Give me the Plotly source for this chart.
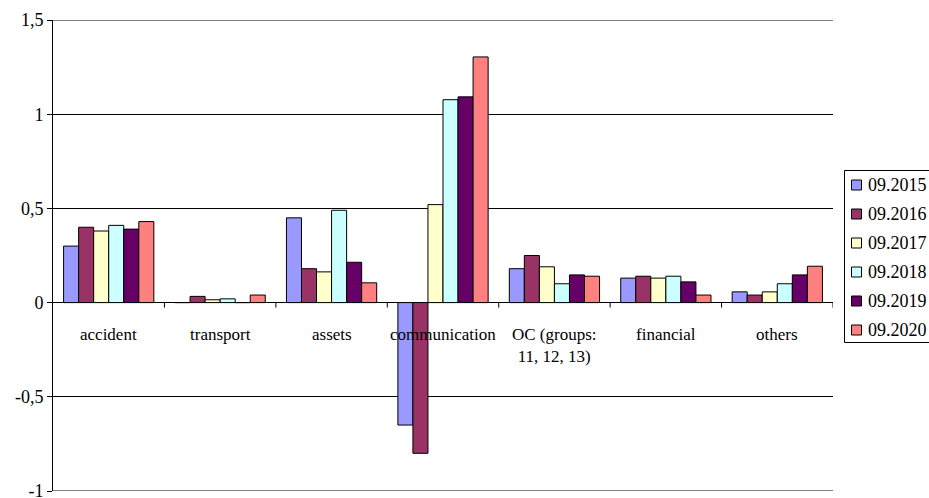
import plotly.graph_objects as go

categories = ["accident", "transport", "assets", "communication",
              "OC (groups:<br>11, 12, 13)", "financial", "others"]
series_names = ["09.2015", "09.2016", "09.2017", "09.2018", "09.2019", "09.2020"]
s2015 = [0.30, 0.0, 0.45, -0.65, 0.18, 0.13, 0.057]
s2016 = [0.40, 0.033, 0.18, -0.80, 0.25, 0.14, 0.04]
s2017 = [0.38, 0.015, 0.163, 0.52, 0.19, 0.13, 0.057]
s2018 = [0.41, 0.02, 0.49, 1.077, 0.10, 0.14, 0.10]
s2019 = [0.39, 0.0, 0.214, 1.092, 0.147, 0.11, 0.147]
s2020 = [0.43, 0.04, 0.105, 1.304, 0.14, 0.04, 0.193]
series_values = [s2015, s2016, s2017, s2018, s2019, s2020]
colors = ["#9999FF", "#993366", "#FFFFCC", "#CCFFFF", "#660066", "#FF8080"]
ytick_vals = [-1, -0.5, 0, 0.5, 1, 1.5]
ytick_text = ["-1", "-0,5", "0", "0,5", "1", "1,5"]
y_min, y_max = -1, 1.5

FONT = "Liberation Serif, serif"

# plot-area geometry in pixels (for the hand-drawn legend box)
W, H = 929, 498
ML, MR, MT, MB = 53, 96, 20, 7
PW, PH = W - ML - MR, H - MT - MB


def px_x(p):
    return (p - ML) / PW


def px_y(p):
    return (H - MB - p) / PH


fig = go.Figure()
xs = list(range(len(categories)))
for name, vals, col in zip(series_names, series_values, colors):
    fig.add_trace(go.Bar(
        x=xs, y=vals, name=name, showlegend=False,
        marker=dict(color=col, line=dict(color="black", width=1)),
    ))

for i, cat in enumerate(categories):
    fig.add_annotation(x=i, y=0, xref="x", yref="y", text=cat, showarrow=False,
                       yanchor="top", yshift=-20,
                       font=dict(family=FONT, size=17, color="black"),
                       align="center")

# category-boundary tick marks hanging below the zero line
for i in range(len(categories)):
    fig.add_shape(type="line", xref="x", yref="y", x0=i + 0.5, x1=i + 0.5,
                  ysizemode="pixel", yanchor=0, y0=0, y1=-5,
                  line=dict(color="black", width=1))

# gridlines at the two range edges (plotly drops edge gridlines)
for yv in (y_min, y_max):
    fig.add_shape(type="line", xref="paper", yref="y", x0=0, x1=1, y0=yv, y1=yv,
                  line=dict(color="black", width=1), layer="below")

# legend box
fig.add_shape(type="rect", xref="paper", yref="paper",
              x0=px_x(844.5), x1=px_x(945), y0=px_y(342.5), y1=px_y(170.5),
              line=dict(color="black", width=1), fillcolor="white", layer="above")
row_y = [185, 214, 243, 272, 301, 330]
for name, col, ry in zip(series_names, colors, row_y):
    fig.add_shape(type="rect", xref="paper", yref="paper",
                  x0=px_x(851.5), x1=px_x(861.5), y0=px_y(ry + 5), y1=px_y(ry - 5),
                  line=dict(color="black", width=1), fillcolor=col, layer="above")
    fig.add_annotation(x=px_x(866), y=px_y(ry), xref="paper", yref="paper",
                       text=name, showarrow=False, xanchor="left", yanchor="middle",
                       font=dict(family=FONT, size=18, color="black"))

fig.update_layout(
    width=W, height=H,
    margin=dict(l=ML, r=MR, t=MT, b=MB, autoexpand=False),
    paper_bgcolor="white", plot_bgcolor="white",
    barmode="group", bargap=0.19, bargroupgap=0,
    font=dict(family=FONT, size=17, color="black"),
    showlegend=False,
    xaxis=dict(range=[-0.5, 6.5], showticklabels=False, showgrid=False,
               zeroline=False, showline=False, ticks="", automargin=False),
    yaxis=dict(range=[y_min, y_max], tickvals=ytick_vals, ticktext=ytick_text,
               showgrid=True, gridcolor="black", gridwidth=1,
               zeroline=True, zerolinecolor="black", zerolinewidth=1,
               showline=True, linecolor="black", linewidth=1,
               ticks="outside", ticklen=5, tickcolor="black",
               ticklabeloverflow="allow", automargin=False,
               tickfont=dict(family=FONT, size=18, color="black")),
)

fig.write_html("out.html")
